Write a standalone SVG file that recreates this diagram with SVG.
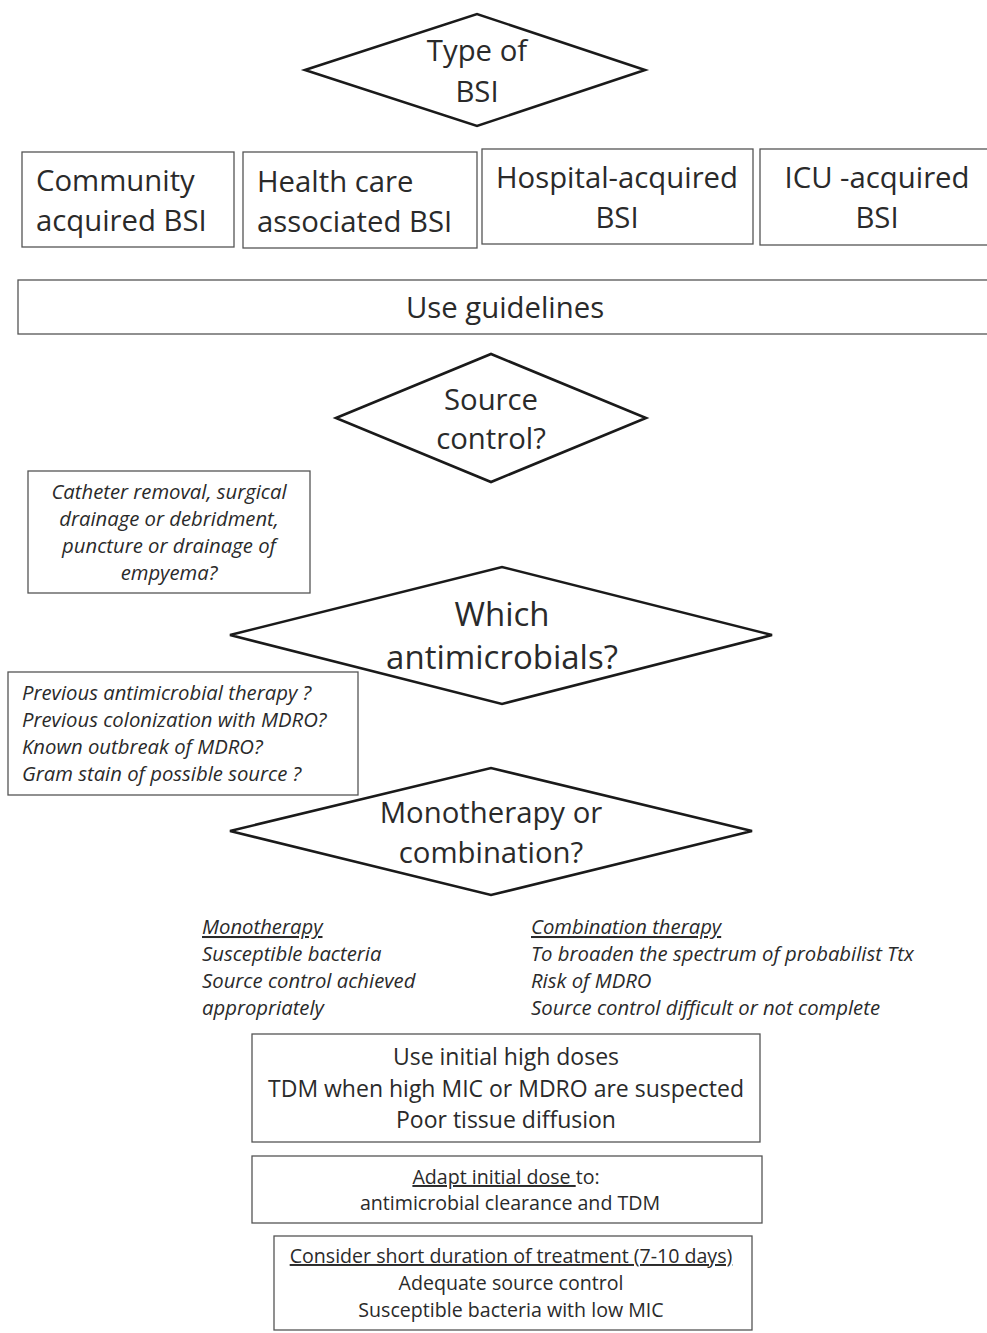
<svg xmlns="http://www.w3.org/2000/svg" width="987" height="1333" viewBox="0 0 987 1333">
<style>
text{font-family:"Open Sans","Liberation Sans",sans-serif;fill:#2a2a2a}
.box{fill:#fff;stroke:#555;stroke-width:1.3}
.dia{fill:#fff;stroke:#1a1a1a;stroke-width:2.6;stroke-linejoin:miter}
.c{text-anchor:middle}
.it{font-style:italic;font-size:20.3px}
.t28{font-size:29.3px}
.t19{font-size:19.6px}
.t22{font-size:23px}
</style>
<rect width="987" height="1333" fill="#fff"/>
<g id="connectors"></g>
<g id="type-bsi">
<polygon class="dia" points="305,70 477,14 645,70 477,126"/>
<text class="c t28" x="477" y="61">Type of</text>
<text class="c t28" x="477" y="102">BSI</text>
</g>
<g id="community">
<rect class="box" x="22" y="152" width="212" height="95"/>
<text class="t28" x="36" y="191">Community</text>
<text class="t28" x="36" y="231">acquired BSI</text>
</g>
<g id="healthcare">
<rect class="box" x="243" y="152" width="234" height="96"/>
<text class="t28" x="257" y="192">Health care</text>
<text class="t28" x="257" y="232">associated BSI</text>
</g>
<g id="hospital">
<rect class="box" x="482" y="149" width="271" height="95"/>
<text class="c t28" x="617" y="188">Hospital-acquired</text>
<text class="c t28" x="617" y="228">BSI</text>
</g>
<g id="icu">
<rect class="box" x="760" y="149" width="240" height="96"/>
<text class="c t28" x="877" y="188">ICU -acquired</text>
<text class="c t28" x="877" y="228">BSI</text>
</g>
<g id="guidelines">
<rect class="box" x="18" y="280" width="990" height="54"/>
<text class="c t28" x="505" y="318">Use guidelines</text>
</g>
<g id="source-control">
<polygon class="dia" points="336,418 491,354 646,418 491,482"/>
<text class="c t28" x="491" y="410">Source</text>
<text class="c t28" x="491" y="449">control?</text>
</g>
<g id="source-note">
<rect class="box" x="28" y="471" width="282" height="122"/>
<text class="c it" x="169" y="499">Catheter removal, surgical</text>
<text class="c it" x="169" y="526">drainage or debridment,</text>
<text class="c it" x="169" y="553">puncture or drainage of</text>
<text class="c it" x="169" y="580">empyema?</text>
</g>
<g id="which-antimicrobials">
<polygon class="dia" points="230,635 502,567 772,635 502,704"/>
<text class="c" x="502" y="626" font-size="33">Which</text>
<text class="c" x="502" y="669" font-size="33">antimicrobials?</text>
</g>
<g id="antimicrobial-note">
<rect class="box" x="8" y="672" width="350" height="123"/>
<text class="it" x="22" y="700">Previous antimicrobial therapy ?</text>
<text class="it" x="22" y="727">Previous colonization with MDRO?</text>
<text class="it" x="22" y="754">Known outbreak of MDRO?</text>
<text class="it" x="22" y="781">Gram stain of possible source ?</text>
</g>
<g id="mono-or-combo">
<polygon class="dia" points="230,831 491,768 752,831 491,895"/>
<text class="c t28" x="491" y="823">Monotherapy or</text>
<text class="c t28" x="491" y="863">combination?</text>
</g>
<g id="monotherapy">
<text class="it" x="202" y="934" text-decoration="underline">Monotherapy</text>
<text class="it" x="202" y="961">Susceptible bacteria</text>
<text class="it" x="202" y="988">Source control achieved</text>
<text class="it" x="202" y="1015">appropriately</text>
</g>
<g id="combination">
<text class="it" x="531" y="934" text-decoration="underline">Combination therapy</text>
<text class="it" x="531" y="961">To broaden the spectrum of probabilist Ttx</text>
<text class="it" x="531" y="988">Risk of MDRO</text>
<text class="it" x="531" y="1015">Source control difficult or not complete</text>
</g>
<g id="high-doses">
<rect class="box" x="252" y="1034" width="508" height="108"/>
<text class="c t22" x="506" y="1065">Use initial high doses</text>
<text class="c t22" x="506" y="1097">TDM when high MIC or MDRO are suspected</text>
<text class="c t22" x="506" y="1128">Poor tissue diffusion</text>
</g>
<g id="adapt-dose">
<rect class="box" x="252" y="1156" width="510" height="67"/>
<text class="c t19" x="506" y="1184"><tspan text-decoration="underline">Adapt initial dose </tspan>to:</text>
<text class="c t19" x="510" y="1210">antimicrobial clearance and TDM</text>
</g>
<g id="short-duration">
<rect class="box" x="274" y="1236" width="478" height="94"/>
<text class="c t19" x="511" y="1263" text-decoration="underline">Consider short duration of treatment (7-10 days)</text>
<text class="c t19" x="511" y="1290">Adequate source control</text>
<text class="c t19" x="511" y="1317">Susceptible bacteria with low MIC</text>
</g>
</svg>
